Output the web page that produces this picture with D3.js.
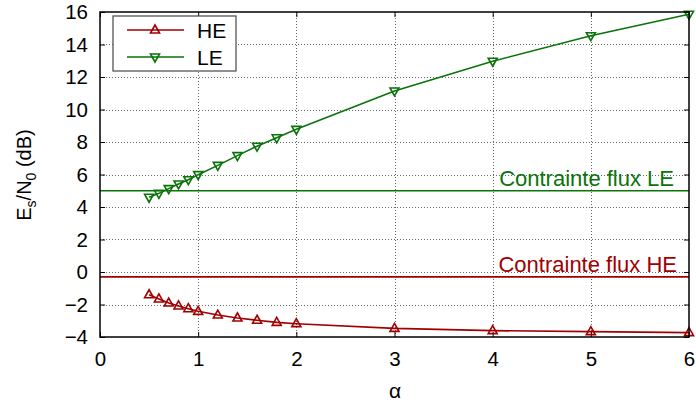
<!DOCTYPE html>
<html>
<head>
<meta charset="utf-8">
<script src="https://cdn.jsdelivr.net/npm/d3@7/dist/d3.min.js"></script>
<style>
  html, body { margin: 0; padding: 0; background: #fff; }
  svg { display: block; font-family: "Liberation Sans", Arial, sans-serif; }
</style>
</head>
<body>
<svg id="chart" width="696" height="405"></svg>
<script>
// Rapport de compression alpha
const alphaValues = [0.5, 0.6, 0.7, 0.8, 0.9, 1.0, 1.2, 1.4, 1.6, 1.8, 2, 3, 4, 5, 6];
// Es/N0 requis (dB) pour chaque flux
const heValues = [-1.40, -1.66, -1.91, -2.09, -2.26, -2.42, -2.65, -2.83, -2.97, -3.10, -3.18, -3.47, -3.61, -3.67, -3.73];
const leValues = [4.60, 4.84, 5.13, 5.42, 5.68, 5.99, 6.56, 7.16, 7.74, 8.26, 8.78, 11.14, 12.97, 14.54, 15.86];
// Contraintes de flux (dB)
const constraintHE = -0.3;
const constraintLE = 5.0;
const xTicks = [0, 1, 2, 3, 4, 5, 6];
const yTicks = [-4, -2, 0, 2, 4, 6, 8, 10, 12, 14, 16];
const seriesNames = ["HE", "LE"];

const colHE = "#a00000";
const colLE = "#0a730a";

const svg = d3.select("#chart");
const m = { left: 100, top: 12, right: 7, bottom: 68 };
const W = 696 - m.left - m.right;
const H = 405 - m.top - m.bottom;

const x = d3.scaleLinear().domain([0, 6]).range([0, W]);
const y = d3.scaleLinear().domain([-4, 16]).range([H, 0]);

const g = svg.append("g").attr("transform", `translate(${m.left},${m.top})`);

// grid
const grid = g.append("g").attr("stroke", "#666").attr("stroke-width", 1).attr("stroke-dasharray", "1,2");
grid.selectAll(".gx").data(xTicks.slice(1, -1)).join("line")
  .attr("x1", d => Math.round(x(d)) + 0.5).attr("x2", d => Math.round(x(d)) + 0.5)
  .attr("y1", 0).attr("y2", H);
grid.selectAll(".gy").data(yTicks.slice(1, -1)).join("line")
  .attr("y1", d => Math.round(y(d)) + 0.5).attr("y2", d => Math.round(y(d)) + 0.5)
  .attr("x1", 0).attr("x2", W);

// axes (ticks pointing inward on all sides)
const fontSize = 20.5;
const axB = g.append("g").attr("transform", `translate(0,${H})`)
  .call(d3.axisBottom(x).tickValues(xTicks).tickSize(-5).tickPadding(14).tickFormat(d3.format("d")));
const axT = g.append("g")
  .call(d3.axisTop(x).tickValues(xTicks).tickSize(-5).tickFormat(""));
const axL = g.append("g")
  .call(d3.axisLeft(y).tickValues(yTicks).tickSize(-5).tickPadding(12).tickFormat(d => d < 0 ? "\u2212" + Math.abs(d) : d));
const axR = g.append("g").attr("transform", `translate(${W},0)`)
  .call(d3.axisRight(y).tickValues(yTicks).tickSize(-5).tickFormat(""));
[axB, axT, axL, axR].forEach(a => {
  a.select(".domain").remove();
  a.selectAll("line").attr("stroke", "#000").attr("stroke-width", 1);
  a.selectAll("text").attr("font-size", fontSize).attr("fill", "#000")
    .attr("font-family", "Liberation Sans, Arial, sans-serif");
});

// constraint lines
g.append("line").attr("x1", 0).attr("x2", W)
  .attr("y1", y(constraintLE)).attr("y2", y(constraintLE))
  .attr("stroke", colLE).attr("stroke-width", 1.6);
g.append("line").attr("x1", 0).attr("x2", W)
  .attr("y1", y(constraintHE)).attr("y2", y(constraintHE))
  .attr("stroke", colHE).attr("stroke-width", 1.6);

g.append("text").attr("x", W - 15).attr("y", y(constraintLE) - 5)
  .attr("text-anchor", "end").attr("font-size", 22).attr("fill", colLE)
  .text("Contrainte flux LE");
g.append("text").attr("x", W - 12).attr("y", y(constraintHE) - 5)
  .attr("text-anchor", "end").attr("font-size", 22).attr("fill", colHE)
  .text("Contrainte flux HE");

// series
const triUp = "M0,-5L4.5,3L-4.5,3Z";
const triDown = "M0,5L4.5,-3L-4.5,-3Z";
const series = [
  { name: seriesNames[0], values: heValues, color: colHE, marker: triUp },
  { name: seriesNames[1], values: leValues, color: colLE, marker: triDown }
];
const line = d3.line().x(d => x(d[0])).y(d => y(d[1]));
series.forEach(s => {
  const pts = alphaValues.map((a, i) => [a, s.values[i]]);
  g.append("path").datum(pts).attr("d", line)
    .attr("fill", "none").attr("stroke", s.color).attr("stroke-width", 1.6);
  g.selectAll(null).data(pts).join("path")
    .attr("transform", d => `translate(${x(d[0])},${y(d[1])})`)
    .attr("d", s.marker).attr("fill", "none")
    .attr("stroke", s.color).attr("stroke-width", 1.6);
});

// frame
g.append("rect").attr("x", 0).attr("y", 0).attr("width", W).attr("height", H)
  .attr("fill", "none").attr("stroke", "#000").attr("stroke-width", 1.5);

// legend
const lg = g.append("g").attr("transform", `translate(${113 - m.left},${16 - m.top})`);
lg.append("rect").attr("x", 0).attr("y", 0).attr("width", 123).attr("height", 55)
  .attr("fill", "#fff").attr("stroke", "#555").attr("stroke-width", 1.3);
series.forEach((s, i) => {
  const yy = 14 + i * 27;
  lg.append("line").attr("x1", 14).attr("x2", 71).attr("y1", yy).attr("y2", yy)
    .attr("stroke", s.color).attr("stroke-width", 1.6);
  lg.append("path").attr("transform", `translate(42,${yy})`).attr("d", s.marker)
    .attr("fill", "none").attr("stroke", s.color).attr("stroke-width", 1.6);
  lg.append("text").attr("x", 84).attr("y", yy + 7.5).attr("font-size", 21)
    .attr("fill", "#000").text(s.name);
});

// axis titles
svg.append("text").attr("x", 395).attr("y", 398).attr("text-anchor", "middle")
  .attr("font-size", 21).attr("fill", "#000").text("\u03b1");
const yl = svg.append("text")
  .attr("transform", "translate(31,175) rotate(-90)")
  .attr("text-anchor", "middle").attr("font-size", 20).attr("fill", "#000");
yl.append("tspan").text("E");
yl.append("tspan").attr("font-size", 14).attr("dy", 5).text("s");
yl.append("tspan").attr("dy", -5).text("/N");
yl.append("tspan").attr("font-size", 14).attr("dy", 5).text("0");
yl.append("tspan").attr("dy", -5).text(" (dB)");
</script>
</body>
</html>
